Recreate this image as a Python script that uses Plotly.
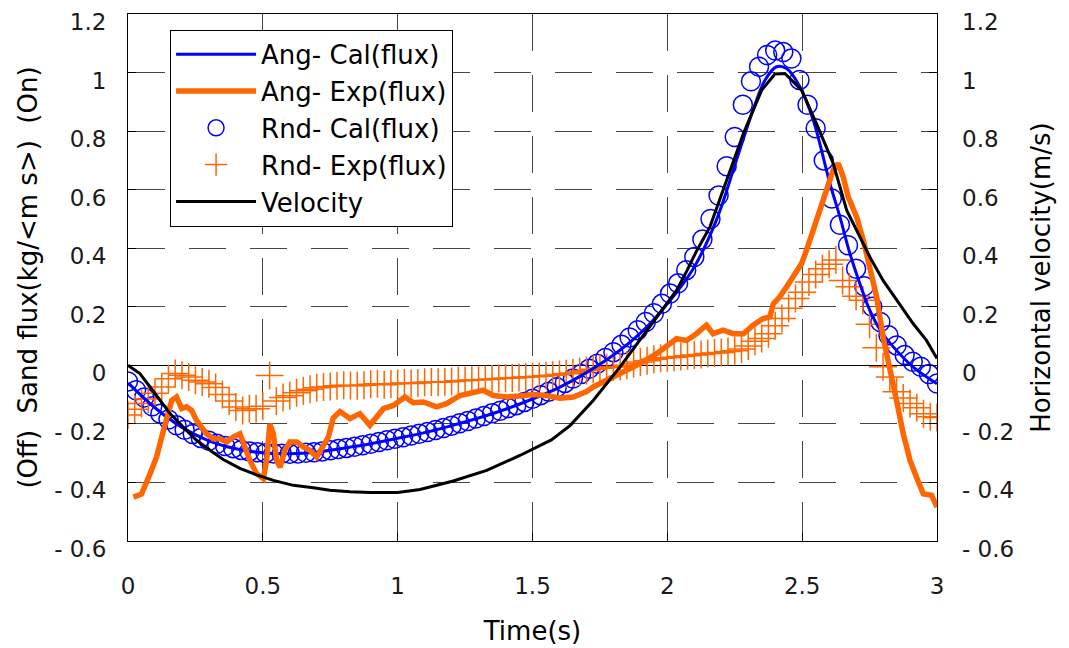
import plotly.graph_objects as go

# ---------------- data ----------------
# Rnd-Cal(flux): circles every 0.03 s
rnd_cal_t = [round(0.03 * i, 2) for i in range(101)]
rnd_cal_v = [-0.055, -0.085, -0.11, -0.14, -0.165, -0.185, -0.205, -0.22, -0.235, -0.248,
             -0.258, -0.268, -0.276, -0.283, -0.289, -0.294, -0.297, -0.3, -0.301, -0.302,
             -0.302, -0.301, -0.299, -0.297, -0.294, -0.29, -0.286, -0.282, -0.278, -0.273,
             -0.268, -0.262, -0.256, -0.251, -0.246, -0.24, -0.234, -0.228, -0.221, -0.214,
             -0.206, -0.198, -0.19, -0.182, -0.173, -0.164, -0.155, -0.146, -0.136, -0.125,
             -0.114, -0.102, -0.09, -0.075, -0.06, -0.045, -0.03, -0.012, 0.005, 0.025,
             0.045, 0.07, 0.095, 0.12, 0.148, 0.178, 0.21, 0.245, 0.28, 0.325,
             0.37, 0.43, 0.5, 0.58, 0.68, 0.78, 0.89, 0.97, 1.02, 1.06,
             1.075, 1.07, 1.048, 0.975, 0.89, 0.81, 0.70, 0.57, 0.48, 0.41,
             0.33, 0.27, 0.2, 0.148, 0.103, 0.068, 0.035, 0.012, -0.005, -0.03,
             -0.062]

# Rnd-Exp(flux): crosses every 0.025 s
rnd_exp_t = [round(0.025 * i, 3) for i in range(121)]
rnd_exp_v = [-0.17, -0.15, -0.13, -0.115, -0.095, -0.074, -0.046, -0.028, -0.034, -0.04,
             -0.051, -0.057, -0.063, -0.076, -0.1, -0.122, -0.142, -0.154, -0.148, -0.148,
             -0.14, -0.035, -0.122, -0.11, -0.104, -0.094, -0.087, -0.082, -0.077, -0.074,
             -0.072, -0.07, -0.068, -0.069, -0.07, -0.068, -0.065, -0.063, -0.066, -0.064,
             -0.062, -0.06, -0.062, -0.06, -0.058, -0.057, -0.058, -0.056, -0.055, -0.053,
             -0.052, -0.05, -0.049, -0.048, -0.047, -0.045, -0.044, -0.043, -0.042, -0.04,
             -0.039, -0.037, -0.036, -0.034, -0.031, -0.029, -0.026, -0.022, -0.018, -0.013,
             -0.01, -0.008, -0.006, -0.004, 0.0, 0.005, 0.011, 0.016, 0.021, 0.024,
             0.026, 0.028, 0.03, 0.033, 0.035, 0.037, 0.04, 0.042, 0.044, 0.047,
             0.05, 0.056, 0.066, 0.082, 0.092, 0.108, 0.135, 0.16, 0.195, 0.228,
             0.25, 0.285, 0.31, 0.33, 0.345, 0.36, 0.29, 0.268, 0.236, 0.222,
             0.14, 0.06, -0.005, -0.04, -0.09, -0.112, -0.13, -0.145, -0.165, -0.176,
             -0.178]

# Ang-Cal(flux): blue line
ang_cal_t = [0.0, 0.1, 0.2, 0.3, 0.4, 0.5, 0.6, 0.7, 0.8, 0.9, 1.0, 1.1, 1.2, 1.3, 1.4,
             1.5, 1.6, 1.7, 1.8, 1.9, 2.0, 2.096, 2.182, 2.256, 2.318, 2.362, 2.405, 2.442,
             2.492, 2.541, 2.603, 2.64, 2.677, 2.714, 2.751, 2.79, 2.838, 2.912, 3.0]
ang_cal_v = [-0.06, -0.145, -0.212, -0.258, -0.285, -0.299, -0.302, -0.296, -0.283, -0.268,
             -0.249, -0.23, -0.206, -0.18, -0.15, -0.115, -0.075, -0.025, 0.035, 0.11,
             0.21, 0.33, 0.496, 0.70, 0.872, 0.974, 1.02, 1.014, 0.951, 0.838, 0.621,
             0.507, 0.382, 0.279, 0.188, 0.12, 0.063, -0.006, -0.063]

# Ang-Exp(flux): orange line
ang_exp_t = [0.02, 0.05, 0.082, 0.106, 0.125, 0.143, 0.162, 0.18, 0.199, 0.217, 0.236, 0.254,
             0.273, 0.291, 0.316, 0.341, 0.366, 0.39, 0.415, 0.434, 0.452, 0.477, 0.502,
             0.514, 0.526, 0.539, 0.551, 0.564, 0.582, 0.6, 0.626, 0.65, 0.675, 0.7, 0.724,
             0.743, 0.761, 0.786, 0.823, 0.86, 0.897, 0.947, 0.984, 1.027, 1.058, 1.095,
             1.144, 1.181, 1.231, 1.28, 1.317, 1.355, 1.404, 1.453, 1.503, 1.552, 1.602,
             1.651, 1.7, 1.725, 1.775, 1.837, 1.898, 1.96, 1.997, 2.034, 2.071, 2.108,
             2.145, 2.17, 2.207, 2.244, 2.282, 2.318, 2.355, 2.38, 2.393, 2.417, 2.442,
             2.47, 2.498, 2.516, 2.541, 2.566, 2.59, 2.615, 2.634, 2.652, 2.671, 2.702,
             2.727, 2.751, 2.776, 2.8, 2.825, 2.85, 2.875, 2.9, 2.924, 2.949, 2.98, 3.0]
ang_exp_v = [-0.45, -0.44, -0.37, -0.313, -0.245, -0.177, -0.12, -0.108, -0.148, -0.142,
             -0.154, -0.188, -0.211, -0.234, -0.251, -0.251, -0.262, -0.245, -0.234, -0.279,
             -0.325, -0.37, -0.387, -0.325, -0.2, -0.234, -0.325, -0.348, -0.29, -0.262,
             -0.262, -0.279, -0.29, -0.313, -0.279, -0.245, -0.18, -0.158, -0.182, -0.165,
             -0.205, -0.148, -0.137, -0.108, -0.128, -0.125, -0.142, -0.131, -0.103, -0.095,
             -0.085, -0.103, -0.108, -0.105, -0.1, -0.103, -0.112, -0.108, -0.09, -0.074,
             -0.051, -0.023, 0.006, 0.04, 0.068, 0.091, 0.085, 0.108, 0.137, 0.108,
             0.12, 0.108, 0.108, 0.137, 0.16, 0.165, 0.21, 0.234, 0.268, 0.31,
             0.348, 0.393, 0.462, 0.519, 0.598, 0.667, 0.69, 0.644, 0.575, 0.507,
             0.427, 0.336, 0.234, 0.097, -0.006, -0.12, -0.234, -0.325, -0.382, -0.439,
             -0.444, -0.484]

# Velocity: black line (right axis)
vel_t = [0.0, 0.044, 0.082, 0.119, 0.156, 0.205, 0.254, 0.304, 0.353, 0.415, 0.477, 0.539,
         0.613, 0.687, 0.749, 0.823, 0.9, 1.0, 1.083, 1.206, 1.33, 1.453, 1.57, 1.64,
         1.725, 1.824, 1.935, 2.034, 2.071, 2.108, 2.158, 2.22, 2.282, 2.35, 2.399,
         2.436, 2.498, 2.553, 2.615, 2.665, 2.714, 2.751, 2.8, 2.85, 2.912, 2.961, 3.0]
vel_v = [0.0, -0.028, -0.074, -0.12, -0.165, -0.211, -0.256, -0.29, -0.322, -0.352, -0.374,
         -0.393, -0.41, -0.418, -0.427, -0.432, -0.434, -0.434, -0.424, -0.395, -0.359,
         -0.308, -0.255, -0.205, -0.12, -0.006, 0.131, 0.256, 0.32, 0.39, 0.473, 0.632,
         0.792, 0.94, 0.995, 0.997, 0.94, 0.826, 0.69, 0.53, 0.439, 0.37, 0.29, 0.222,
         0.142, 0.085, 0.023]

x_ticks = [0, 0.5, 1, 1.5, 2, 2.5, 3]
x_ticktext = ["0", "0.5", "1", "1.5", "2", "2.5", "3"]
y_ticks = [-0.6, -0.4, -0.2, 0, 0.2, 0.4, 0.6, 0.8, 1, 1.2]
y_ticktext = ["- 0.6", "- 0.4", "- 0.2", "0", "0.2", "0.4", "0.6", "0.8", "1", "1.2"]

# ---------------- figure ----------------
ORANGE = "#FF6600"
BLUE = "#0000FF"
FONT = "DejaVu Sans"
FS = 23      # tick labels
FT = 26      # titles / legend
YR = [-0.6001, 1.2001]

fig = go.Figure()
fig.add_trace(go.Scatter(x=rnd_cal_t, y=rnd_cal_v, mode="markers", name="Rnd- Cal(flux)",
                         legendrank=3,
                         marker=dict(symbol="circle-open", size=19, color=BLUE,
                                     line=dict(width=1.5, color=BLUE))))
fig.add_trace(go.Scatter(x=rnd_exp_t, y=rnd_exp_v, mode="markers", name="Rnd- Exp(flux)",
                         legendrank=4,
                         marker=dict(symbol="cross-thin-open", size=20, color=ORANGE,
                                     line=dict(width=1.5, color=ORANGE))))
fig.add_trace(go.Scatter(x=ang_cal_t, y=ang_cal_v, mode="lines", name="Ang- Cal(flux)",
                         legendrank=1, line=dict(color=BLUE, width=3, shape="spline")))
fig.add_trace(go.Scatter(x=ang_exp_t, y=ang_exp_v, mode="lines", name="Ang- Exp(flux)",
                         legendrank=2, line=dict(color=ORANGE, width=5.5)))
fig.add_trace(go.Scatter(x=vel_t, y=vel_v, mode="lines", name="Velocity", yaxis="y2",
                         legendrank=5, line=dict(color="black", width=3)))

axis_common = dict(showline=True, linecolor="black", linewidth=1, mirror=True,
                   ticks="inside", ticklen=8, tickcolor="black", automargin=False,
                   ticklabeloverflow="allow",
                   tickfont=dict(family=FONT, size=FS, color="#1a1a1a"))

fig.update_layout(
    width=1069, height=648,
    margin=dict(l=128, r=132, t=14, b=107, autoexpand=False),
    paper_bgcolor="white", plot_bgcolor="white",
    font=dict(family=FONT, size=FS, color="black"),
    xaxis=dict(range=[0, 3], tickvals=x_ticks, ticktext=x_ticktext,
               showgrid=True, gridcolor="#444444", gridwidth=1, griddash="37px,24px",
               zeroline=False, ticklabelstandoff=24,
               title=dict(text="Time(s)", font=dict(family=FONT, size=FT), standoff=24),
               **axis_common),
    yaxis=dict(range=YR, tickvals=y_ticks, ticktext=y_ticktext,
               showgrid=True, gridcolor="#444444", gridwidth=1, griddash="37px,24px",
               zeroline=True, zerolinecolor="black", zerolinewidth=1,
               ticklabelstandoff=16, ticklabelshift=8,
               title=dict(text="(Off)  Sand flux(kg/<m s>)  (On)",
                          font=dict(family=FONT, size=FT), standoff=9),
               **axis_common),
    yaxis2=dict(range=YR, tickvals=y_ticks, ticktext=y_ticktext,
                overlaying="y", side="right", showgrid=False, zeroline=False,
                showline=False, ticks="inside", ticklen=8, tickcolor="black",
                automargin=False, ticklabeloverflow="allow",
                tickfont=dict(family=FONT, size=FS, color="#1a1a1a"),
                ticklabelstandoff=24, ticklabelshift=8,
                title=dict(text="Horizontal velocity(m/s)",
                           font=dict(family=FONT, size=FT), standoff=18)),
    legend=dict(x=0.052, y=0.97, xanchor="left", yanchor="top",
                bgcolor="white", bordercolor="black", borderwidth=1,
                font=dict(family=FONT, size=FT, color="black"),
                itemwidth=80, traceorder="normal"),
    showlegend=True,
)

fig.write_html("out.html")
